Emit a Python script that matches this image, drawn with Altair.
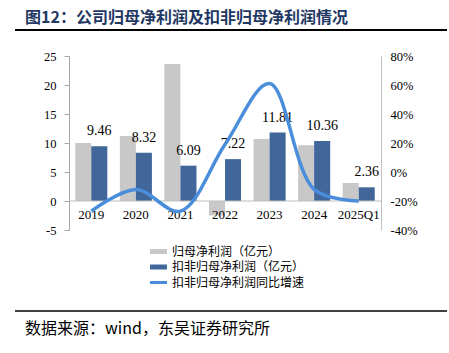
import altair as alt
import pandas as pd

years = ["2019", "2020", "2021", "2022", "2023", "2024", "2025Q1"]
parent_np = [10.0, 11.2, 23.6, -2.5, 10.7, 9.6, 3.1]
deducted_np = [9.46, 8.32, 6.09, 7.22, 11.81, 10.36, 2.36]
deducted_growth = [-0.27, -0.12, -0.27, 0.19, 0.61, -0.12, -0.20]

s1 = "归母净利润（亿元）"
s2 = "扣非归母净利润（亿元）"
s3 = "扣非归母净利润同比增速"

title_text = "图12：公司归母净利润及扣非归母净利润情况"
source_text = "数据来源：wind，东吴证券研究所"

GREY = "#c8c8c8"
BLUE = "#41679a"
LINE = "#4a8edb"
SERIF = "Liberation Serif"
CJK = "Noto Sans CJK SC"

bars_df = pd.DataFrame({
    "year": years * 2,
    "series": [s1] * len(years) + [s2] * len(years),
    "value": parent_np + deducted_np,
})
line_df = pd.DataFrame({"year": years, "growth": deducted_growth, "series": [s3] * len(years)})
year_df = pd.DataFrame({"year": years})
one = pd.DataFrame({"k": [0]})

x_enc = alt.X("year:N", sort=years, axis=None,
              scale=alt.Scale(paddingInner=0.28, paddingOuter=0.14))
xoff = alt.XOffset("series:N", scale=alt.Scale(domain=[s1, s2], paddingInner=0, paddingOuter=0))

left_scale = alt.Scale(domain=[-5, 25], nice=False, zero=False)
left_axis = alt.Axis(values=[-5, 0, 5, 10, 15, 20, 25], title=None, grid=False,
                     domainColor="#a6a6a6", tickColor="#a6a6a6", tickSize=5,
                     labelFont=SERIF, labelFontSize=12.5, labelColor="#000000",
                     labelPadding=8, labelOverlap=False,
                     labelExpr="datum.value < 0 ? '-' + abs(datum.value) : '' + datum.value")

bars = alt.Chart(bars_df).mark_bar().encode(
    x=x_enc,
    xOffset=xoff,
    y=alt.Y("value:Q", scale=left_scale, axis=left_axis, title=None),
    color=alt.Color("series:N",
                    scale=alt.Scale(domain=[s1, s2], range=[GREY, BLUE]),
                    legend=None),
)

labels = alt.Chart(bars_df).transform_filter(
    alt.datum.series == s2
).mark_text(baseline="bottom", dy=-8, font=SERIF, fontSize=14, color="#000000").encode(
    x=x_enc,
    xOffset=xoff,
    y=alt.Y("value:Q", scale=left_scale, axis=left_axis, title=None),
    text=alt.Text("value:Q", format=".2f"),
)

zero = alt.Chart(one).mark_rule(color="#bfbfbf", strokeWidth=1).encode(
    y=alt.Y(datum=0, type="quantitative", scale=left_scale, axis=left_axis, title=None),
)

year_labels = alt.Chart(year_df).mark_text(
    baseline="middle", dy=14, font=SERIF, fontSize=13, color="#000000"
).encode(
    x=x_enc,
    y=alt.Y(datum=0, type="quantitative", scale=left_scale, axis=left_axis, title=None),
    text="year:N",
)

left = alt.layer(bars, zero, labels, year_labels)

line = alt.Chart(line_df).mark_line(interpolate="catmull-rom", strokeWidth=3.5).encode(
    x=x_enc,
    y=alt.Y("growth:Q",
            scale=alt.Scale(domain=[-0.4, 0.8], nice=False, zero=False),
            axis=alt.Axis(orient="right", values=[-0.4, -0.2, 0, 0.2, 0.4, 0.6, 0.8],
                          title=None, grid=False, ticks=False,
                          domainColor="#bfbfbf", labelFont=SERIF, labelFontSize=12.5,
                          labelColor="#000000", labelPadding=9, labelOverlap=False,
                          labelExpr="(datum.value < 0 ? '-' : '') + format(abs(datum.value), '.0%')")),
    stroke=alt.Stroke("series:N", scale=alt.Scale(domain=[s3], range=[LINE]), legend=None),
)

# legend (drawn manually)
def legend_symbol(color, width, yv):
    return alt.Chart(one).mark_rule(color=color, strokeWidth=width).encode(
        x=alt.value(81), x2=alt.value(98), y=alt.value(yv))

def legend_text(txt, yv):
    return alt.Chart(one).mark_text(
        align="left", baseline="middle", font=CJK, fontSize=12, color="#000000"
    ).encode(x=alt.value(103), y=alt.value(yv), text=alt.value(txt))

legend_layers = [
    legend_symbol(GREY, 5, 195.5), legend_text(s1, 195.5),
    legend_symbol(BLUE, 5, 211), legend_text(s2, 211),
    legend_symbol(LINE, 3, 226.5), legend_text(s3, 226.5),
]

deco_title = alt.Chart(one).mark_text(
    align="left", baseline="middle", font=CJK, fontSize=16, fontWeight="bold", color="#1f3864"
).encode(x=alt.value(-44), y=alt.value(-38.5), text=alt.value(title_text))

deco_line1 = alt.Chart(one).mark_rule(color="#000000", strokeWidth=2).encode(
    x=alt.value(-54), x2=alt.value(378), y=alt.value(-26))

deco_line2 = alt.Chart(one).mark_rule(color="#000000", strokeWidth=1.5).encode(
    x=alt.value(-54), x2=alt.value(378), y=alt.value(255))

deco_source = alt.Chart(one).mark_text(
    align="left", baseline="middle", font=CJK, fontSize=16, color="#000000"
).encode(x=alt.value(-44), y=alt.value(273), text=alt.value(source_text))

chart = alt.layer(left, line, *legend_layers, deco_title, deco_line1, deco_line2,
                  deco_source).resolve_scale(
    y="independent"
).properties(
    width=312, height=174,
    autosize=alt.AutoSizeParams(type="none"),
    padding={"left": 69, "top": 56, "right": 68, "bottom": 123},
    background="#ffffff",
).configure_view(stroke=None).configure_axis(
    labelFont=SERIF, labelFontSize=12.5, labelColor="#000000", labelOverlap=False
)

chart.save("out.html", embed_options={"renderer": "svg", "actions": False})
